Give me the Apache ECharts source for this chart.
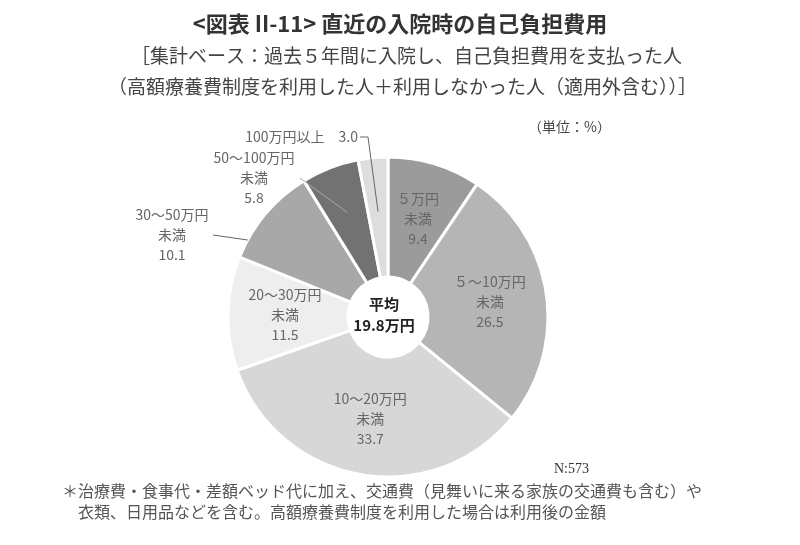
<!DOCTYPE html>
<html>
<head>
<meta charset="utf-8">
<script src="https://cdn.jsdelivr.net/npm/echarts@6/dist/echarts.min.js"></script>
<style>
  html, body { margin: 0; padding: 0; background: #fff; }
  #main { width: 800px; height: 545px; }
</style>
</head>
<body>
<div id="main"></div>
<script>
var categories = ['５万円未満', '５～10万円未満', '10～20万円未満', '20～30万円未満', '30～50万円未満', '50～100万円未満', '100万円以上'];
var shares = [9.4, 26.5, 33.7, 11.5, 10.1, 5.8, 3.0];
var sliceColors = ['#9b9b9b', '#b5b5b5', '#d7d7d7', '#eeeeee', '#a8a8a8', '#727272', '#dddddd'];
var averageText = '平均\n19.8万円';

var jp = '"Noto Sans CJK JP", "Noto Sans", sans-serif';

var CX = 388, CY = 317, R_IN = 40, R_OUT = 160;

// 外側ラベルの位置（x, y: ラベル中心/右端）と引出線
//   edgeY: その高さで外周まで / r: 扇形の二等分線上の半径まで、start/bend: 引出線の始点
var outsideLabelPos = {
  4: { x: 172, y: 235, align: 'center', start: [213, 235], edgeY: 240, color: '#666666' },
  5: { x: 254, y: 178, align: 'center', start: [300, 178], r: 112, color: '#aaaaaa' },
  6: { x: 358, y: 137, align: 'right', start: [360, 137], bend: [368, 137], r: 106, color: '#666666' }
};

// 各扇形の二等分線の角度（上から時計回り、度）
var total = 0;
shares.forEach(function (v) { total += v; });
var midAngles = [];
var acc = 0;
shares.forEach(function (v) { midAngles.push((acc + v / 2) / total * 360); acc += v; });

function polar(deg, r) {
  var a = deg * Math.PI / 180;
  return [CX + r * Math.sin(a), CY - r * Math.cos(a)];
}

var chart = echarts.init(document.getElementById('main'));

var pieData = [];
for (var i = 0; i < categories.length; i++) {
  pieData.push({
    name: categories[i],
    value: shares[i],
    itemStyle: { color: sliceColors[i] },
    label: { position: outsideLabelPos[i] ? 'outside' : 'inside' }
  });
}

// 引出線
var leaderLines = [];
Object.keys(outsideLabelPos).forEach(function (k) {
  var pos = outsideLabelPos[k];
  var pts = [pos.start];
  if (pos.bend) pts.push(pos.bend);
  if (pos.edgeY != null) {
    var dy = pos.edgeY - CY;
    pts.push([CX - Math.sqrt(R_OUT * R_OUT - dy * dy), pos.edgeY]);
  } else {
    pts.push(polar(midAngles[k], pos.r));
  }
  leaderLines.push({
    type: 'polyline', z: 10, silent: true,
    shape: { points: pts },
    style: { stroke: pos.color, lineWidth: 1, fill: null }
  });
});

option = {
  animation: false,
  backgroundColor: '#ffffff',
  title: [
    {
      text: '<図表 II-11> 直近の入院時の自己負担費用',
      left: 'center', top: 8,
      textStyle: { fontFamily: jp, fontSize: 22, fontWeight: 'bold', color: '#333' }
    },
    {
      text: '［集計ベース：過去５年間に入院し、自己負担費用を支払った人',
      left: 126, top: 41,
      textStyle: { fontFamily: jp, fontSize: 19, fontWeight: 'normal', color: '#444' }
    },
    {
      text: '（高額療養費制度を利用した人＋利用しなかった人（適用外含む））］',
      left: 103, top: 72,
      textStyle: { fontFamily: jp, fontSize: 19, fontWeight: 'normal', color: '#444' }
    }
  ],
  graphic: [
    {
      type: 'text', left: 528, top: 120,
      style: { text: '（単位：%）', font: '14px ' + jp, fill: '#444' }
    },
    {
      type: 'text', left: 554, top: 462,
      style: { text: 'N:573', font: '14px "Liberation Serif", serif', fill: '#333' }
    },
    {
      type: 'text', left: 62, top: 480,
      style: {
        text: '＊治療費・食事代・差額ベッド代に加え、交通費（見舞いに来る家族の交通費も含む）や\n　衣類、日用品などを含む。高額療養費制度を利用した場合は利用後の金額',
        font: '16px ' + jp, fill: '#555', lineHeight: 21
      }
    }
  ].concat(leaderLines),
  series: [
    {
      type: 'pie',
      center: [CX, CY],
      radius: [R_IN, R_OUT],
      startAngle: 90,
      clockwise: true,
      avoidLabelOverlap: false,
      itemStyle: { borderColor: '#ffffff', borderWidth: 3 },
      label: {
        show: true,
        fontFamily: jp,
        fontSize: 14,
        lineHeight: 20,
        color: '#666',
        align: 'center',
        formatter: function (p) {
          var v = p.value.toFixed(1);
          if (p.dataIndex === 6) return p.name + '　' + v;
          return p.name.replace('未満', '\n未満') + '\n' + v;
        }
      },
      labelLine: { show: false },
      labelLayout: function (params) {
        var pos = outsideLabelPos[params.dataIndex];
        if (!pos) return {};
        return { x: pos.x, y: pos.y, align: pos.align, verticalAlign: 'middle' };
      },
      emphasis: { disabled: true },
      data: pieData
    },
    {
      type: 'pie',
      center: [384, 315],
      radius: [0, 1],
      silent: true,
      label: {
        show: true,
        position: 'center',
        formatter: averageText,
        fontFamily: jp,
        fontSize: 15,
        fontWeight: 'bold',
        lineHeight: 21,
        color: '#222'
      },
      labelLine: { show: false },
      itemStyle: { color: 'transparent' },
      data: [{ value: 1, name: '平均' }]
    }
  ]
};

chart.setOption(option);
</script>
</body>
</html>
